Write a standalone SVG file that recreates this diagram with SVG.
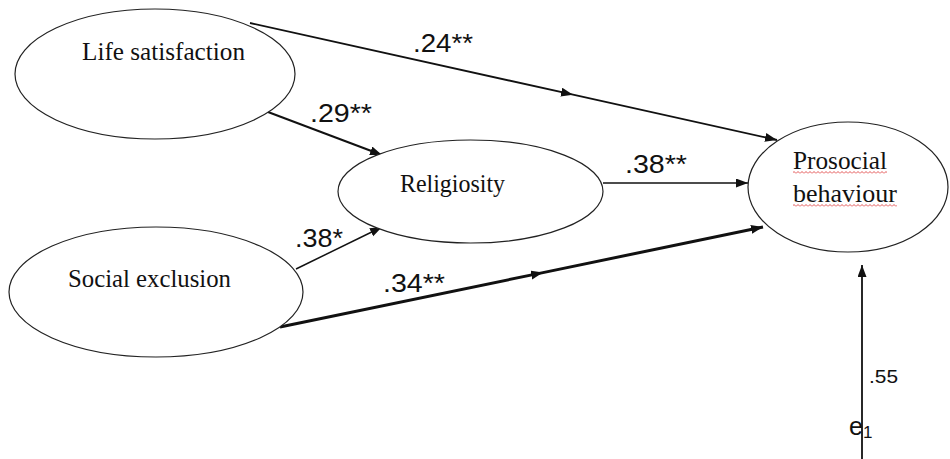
<svg xmlns="http://www.w3.org/2000/svg" width="950" height="459" viewBox="0 0 950 459">
<style>
.node ellipse{fill:#fff;stroke:#222;stroke-width:1.2}
.lbl{font-family:"Liberation Serif","Times New Roman",serif;font-size:25px;fill:#111}
.coef{font-family:"Liberation Sans",Arial,sans-serif;font-size:25px;fill:#111}
.edge{fill:none;stroke:#111;marker-end:url(#ah)}
.wavy{fill:url(#wave)}
</style>
<defs>
<marker id="ah" markerUnits="userSpaceOnUse" markerWidth="13" markerHeight="10" refX="12" refY="4.5" orient="auto">
<path d="M0,0 L12,4.5 L0,9 z" fill="#111"/>
</marker>
<pattern id="wave" width="4" height="3" patternUnits="userSpaceOnUse">
<path d="M0,2.5 L2,0.5 L4,2.5" stroke="#e04040" fill="none" stroke-width="0.9"/>
</pattern>
</defs>
<g id="connectors">
<path class="edge" d="M250,23 L573,94.7 L777,140" style="stroke-width:1.8;marker-mid:url(#ah)"/>
<path class="edge" d="M268,112 L382,155" style="stroke-width:2"/>
<path class="edge" d="M603,183 L748,183" style="stroke-width:1.5"/>
<path class="edge" d="M296,269 L382,227" style="stroke-width:1.5"/>
<path class="edge" d="M280,327 L543,272.6 L763,227" style="stroke-width:3;marker-mid:url(#ah)"/>
<path class="edge" d="M862,459 L862,265" style="stroke-width:1.8"/>
<text class="coef" x="413" y="52" textLength="60" lengthAdjust="spacingAndGlyphs">.24**</text>
<text class="coef" x="310" y="122" textLength="62" lengthAdjust="spacingAndGlyphs">.29**</text>
<text class="coef" x="625" y="173" textLength="62" lengthAdjust="spacingAndGlyphs">.38**</text>
<text class="coef" x="295" y="247" textLength="48" lengthAdjust="spacingAndGlyphs">.38*</text>
<text class="coef" x="383" y="292" textLength="62" lengthAdjust="spacingAndGlyphs">.34**</text>
<text class="coef" x="869" y="383" style="font-size:19px" textLength="29" lengthAdjust="spacingAndGlyphs">.55</text>
<text class="coef" x="849" y="435" style="font-size:25px">e<tspan style="font-size:17px" dy="3">1</tspan></text>
</g>
<g id="life-satisfaction" class="node">
<ellipse cx="155" cy="74" rx="140" ry="65"/>
<text class="lbl" x="82" y="60" textLength="163" lengthAdjust="spacingAndGlyphs">Life satisfaction</text>
</g>
<g id="religiosity" class="node">
<ellipse cx="470.5" cy="191.5" rx="132.5" ry="51.5"/>
<text class="lbl" x="400" y="192" textLength="105" lengthAdjust="spacingAndGlyphs">Religiosity</text>
</g>
<g id="social-exclusion" class="node">
<ellipse cx="156" cy="292" rx="147" ry="65"/>
<text class="lbl" x="68" y="287" textLength="163" lengthAdjust="spacingAndGlyphs">Social exclusion</text>
</g>
<g id="prosocial-behaviour" class="node">
<ellipse cx="848" cy="187" rx="100" ry="65"/>
<text class="lbl" x="793" y="169" textLength="94" lengthAdjust="spacingAndGlyphs">Prosocial</text>
<text class="lbl" x="793" y="202" textLength="104" lengthAdjust="spacingAndGlyphs">behaviour</text>
<rect class="wavy" x="793" y="171" width="94" height="3"/>
<rect class="wavy" x="793" y="204" width="104" height="3"/>
</g>
</svg>
